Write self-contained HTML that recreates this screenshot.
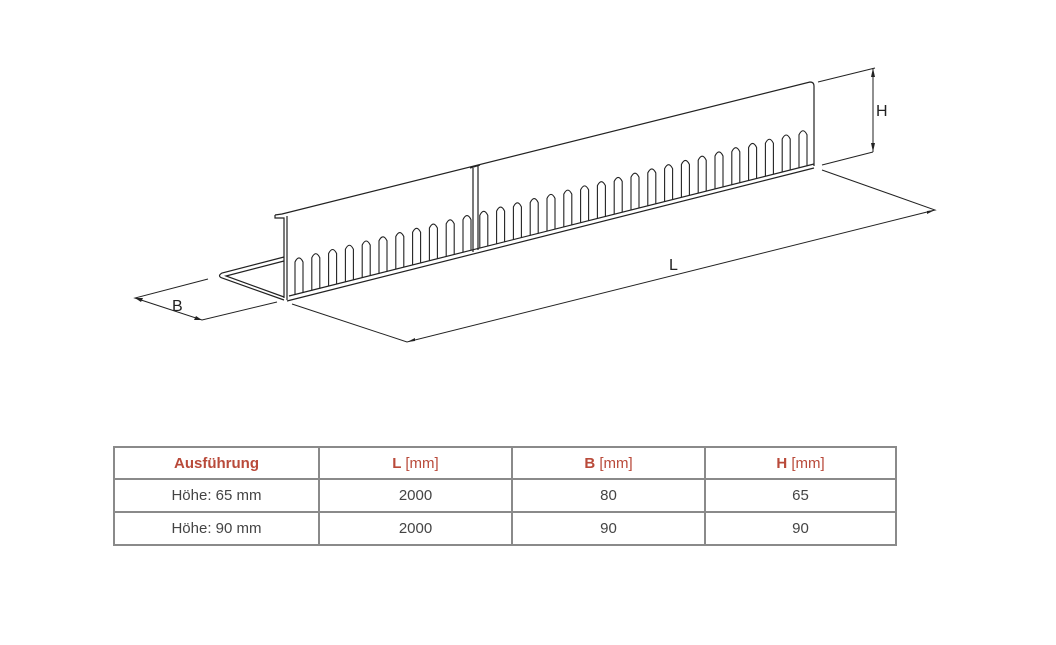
<!DOCTYPE html>
<html><head><meta charset="utf-8"><style>
body{margin:0;background:#fff;width:1056px;height:645px;overflow:hidden;font-family:"Liberation Sans",Arial,sans-serif}
table{position:absolute;left:113px;top:446px;border-collapse:collapse;width:784px}
td{border:2px solid #8a8a8a;height:31px;text-align:center;font-size:15px;color:#444;padding:0}
tr.h td{color:#b94a3a;font-weight:bold;height:30px}
tr.h td span{font-weight:normal}
</style></head><body>
<svg width="1056" height="645" style="position:absolute;left:0;top:0" id="s">
<g stroke="#222" stroke-width="1.2" fill="none">
<path d="M275,215 L282,214 L810,82 Q814,82 814,86 L814,166"/>
<path d="M275,215 L275,218 L284,218 L284,298"/>
<path d="M287,216 L287,300"/>
<path d="M287,301 L814,168"/>
<path d="M289,296 L814,164"/>
<path d="M284,300 L222,278 Q217,276 222,273 L284,257"/>
<path d="M284,297 L226,276 L284,261"/>
<path d="M473,168 L473,252 M478,166 L478,250 M470,168 L480,165"/>
<path d="M208,279 L135,298 L202,320 L277,302" stroke-width="1"/>
<path d="M292,304 L407,342 L935,210 L822,170" stroke-width="1"/>
<path d="M818,82 L875,68 M822,165 L873,152 M873,68 L873,152" stroke-width="1"/>
</g>
<g fill="#222">
<path d="M135,298 l8,0 l-2,4z"/><path d="M202,320 l-8,0 l2,-4z"/>
<path d="M407,342 l8,-4 l0,3z"/><path d="M935,210 l-8,4 l0,-3z"/>
<path d="M873,68 l-2,9 l4,0z"/><path d="M873,152 l-2,-9 l4,0z"/>
</g>
<g id="slots" stroke="#222" stroke-width="1.1" fill="none"></g>
<g font-family="Liberation Sans,Arial,sans-serif" font-size="16" fill="#222">
<text x="172" y="311">B</text>
<text x="669" y="270">L</text>
<text x="876" y="116">H</text>
</g>
</svg>
<script>
var g=document.getElementById('slots'),h='';
for(var i=0;i<31;i++){var x=299+i*16.8,yb=300-(x-287)*0.2524-2,yt=yb-37;
h+='<path d="M'+(x-4)+','+yb+' L'+(x-4)+','+(yt+4)+' Q'+x+','+(yt-4)+' '+(x+4)+','+(yt+4)+' L'+(x+4)+','+(yb-2)+'"/>';}
g.innerHTML=h;
</script>
<table>
<tr class="h"><td style="width:203px">Ausführung</td><td style="width:191px">L <span>[mm]</span></td><td style="width:191px">B <span>[mm]</span></td><td>H <span>[mm]</span></td></tr>
<tr><td>Höhe: 65 mm</td><td>2000</td><td>80</td><td>65</td></tr>
<tr><td>Höhe: 90 mm</td><td>2000</td><td>90</td><td>90</td></tr>
</table>
</body></html>
